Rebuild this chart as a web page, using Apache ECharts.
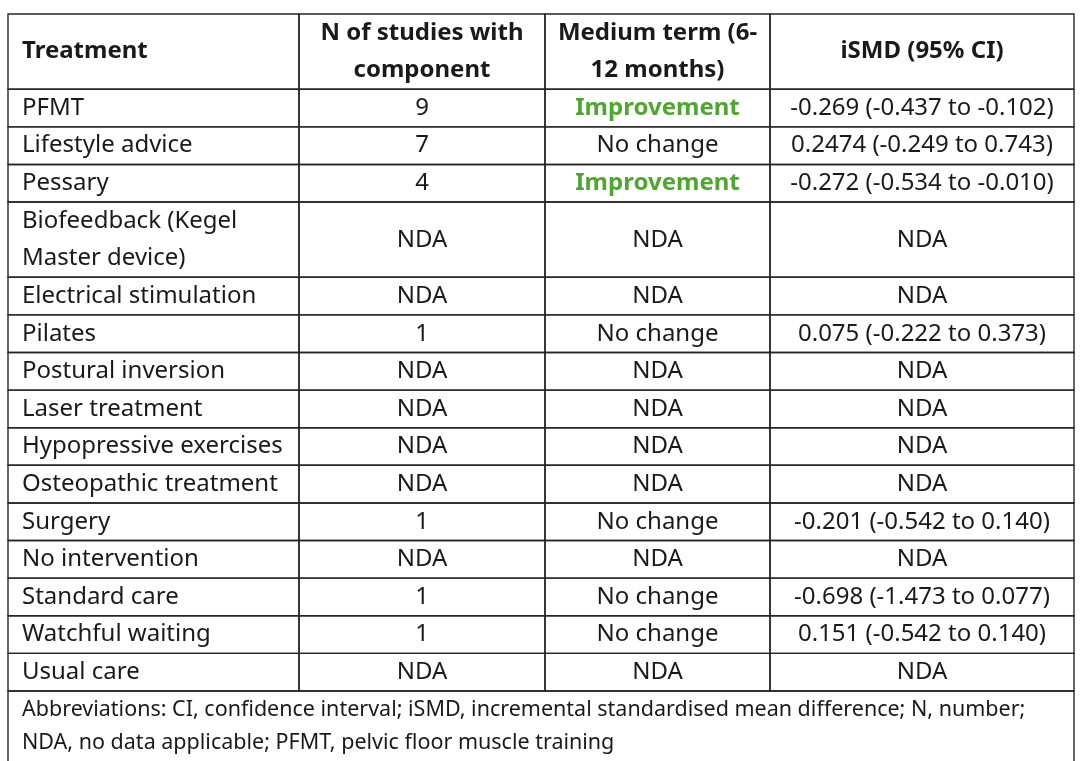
<!DOCTYPE html>
<html>
<head>
<meta charset="utf-8">
<script src="https://cdn.jsdelivr.net/npm/echarts@6/dist/echarts.min.js"></script>
<style>
html, body { margin: 0; padding: 0; background: #fff; }
#main { width: 1080px; height: 761px; }
</style>
</head>
<body>
<div id="main"></div>
<script>
let headers = ['Treatment', 'N of studies with\ncomponent', 'Medium term (6-\n12 months)', 'iSMD (95% CI)'];
let treatments = ['PFMT', 'Lifestyle advice', 'Pessary', 'Biofeedback (Kegel\nMaster device)', 'Electrical stimulation',
    'Pilates', 'Postural inversion', 'Laser treatment', 'Hypopressive exercises', 'Osteopathic treatment',
    'Surgery', 'No intervention', 'Standard care', 'Watchful waiting', 'Usual care'];
let nStudies = ['9', '7', '4', 'NDA', 'NDA', '1', 'NDA', 'NDA', 'NDA', 'NDA', '1', 'NDA', '1', '1', 'NDA'];
let mediumTerm = ['Improvement', 'No change', 'Improvement', 'NDA', 'NDA', 'No change', 'NDA', 'NDA', 'NDA', 'NDA',
    'No change', 'NDA', 'No change', 'No change', 'NDA'];
let ismd = ['-0.269 (-0.437 to -0.102)', '0.2474 (-0.249 to 0.743)', '-0.272 (-0.534 to -0.010)', 'NDA', 'NDA',
    '0.075 (-0.222 to 0.373)', 'NDA', 'NDA', 'NDA', 'NDA', '-0.201 (-0.542 to 0.140)', 'NDA',
    '-0.698 (-1.473 to 0.077)', '0.151 (-0.542 to 0.140)', 'NDA'];
let footnote = 'Abbreviations: CI, confidence interval; iSMD, incremental standardised mean difference; N, number;\nNDA, no data applicable; PFMT, pelvic floor muscle training';

// layout
let colEdges = [0, 291, 537, 762, 1066];
let font = '"Noto Sans", "Open Sans", sans-serif';
let fontSize = 24;
let footSize = 21.5;
let unit = 37.61;

// rows with heights in line units
let rows = [];
let y = 0;
function addRow(kind, idx, h) {
    rows.push({ kind: kind, idx: idx, y0: y, y1: y + h });
    y += h;
}
addRow('head', 0, 2);
treatments.forEach(function (t, i) {
    addRow('body', i, t.indexOf('\n') >= 0 ? 2 : 1);
});
let tableEnd = y;
// footnote runs past the bottom edge of the picture
addRow('foot', 0, 2.5);

let chartDom = document.getElementById('main');
let myChart = echarts.init(chartDom);

function cellText(row, c) {
    if (row.kind === 'head') return headers[c];
    if (c === 0) return treatments[row.idx];
    if (c === 1) return nStudies[row.idx];
    if (c === 2) return mediumTerm[row.idx];
    return ismd[row.idx];
}

function renderItem(params, api) {
    let row = rows[params.dataIndex];
    let top = api.coord([0, api.value(1)])[1];
    let bottom = api.coord([0, api.value(2)])[1];
    let children = [];
    let border = { fill: 'none', stroke: '#262626', lineWidth: 1.4 };
    if (row.kind === 'foot') {
        let x0 = api.coord([colEdges[0], 0])[0];
        let x1 = api.coord([colEdges[4], 0])[0];
        children.push({ type: 'rect', shape: { x: x0, y: top, width: x1 - x0, height: bottom - top }, style: border });
        children.push({
            type: 'text',
            style: {
                x: x0 + 14, y: top + 2, text: footnote, fill: '#1a1a1a',
                font: footSize + 'px ' + font, lineHeight: 33.5, align: 'left', verticalAlign: 'top'
            }
        });
        return { type: 'group', children: children };
    }
    for (let c = 0; c < 4; c++) {
        let x0 = api.coord([colEdges[c], 0])[0];
        let x1 = api.coord([colEdges[c + 1], 0])[0];
        children.push({ type: 'rect', shape: { x: x0, y: top, width: x1 - x0, height: bottom - top }, style: border });
        let txt = cellText(row, c);
        let bold = row.kind === 'head' || txt === 'Improvement';
        children.push({
            type: 'text',
            style: {
                x: c === 0 ? x0 + 14 : (x0 + x1) / 2,
                y: (top + bottom) / 2,
                text: txt,
                fill: txt === 'Improvement' ? '#4ea72e' : '#1a1a1a',
                font: (bold ? 'bold ' : '') + fontSize + 'px ' + font,
                lineHeight: 37,
                align: c === 0 ? 'left' : 'center',
                verticalAlign: 'middle'
            }
        });
    }
    return { type: 'group', children: children };
}

let option = {
    animation: false,
    grid: { left: 8, top: 14, width: 1066, height: tableEnd * unit },
    xAxis: { type: 'value', min: 0, max: colEdges[4], show: false },
    yAxis: { type: 'value', min: 0, max: tableEnd, inverse: true, show: false },
    series: [{
        type: 'custom',
        renderItem: renderItem,
        clip: false,
        encode: { x: 0, y: [1, 2] },
        data: rows.map(function (r) { return [0, r.y0, r.y1]; })
    }]
};

myChart.setOption(option);
</script>
</body>
</html>
